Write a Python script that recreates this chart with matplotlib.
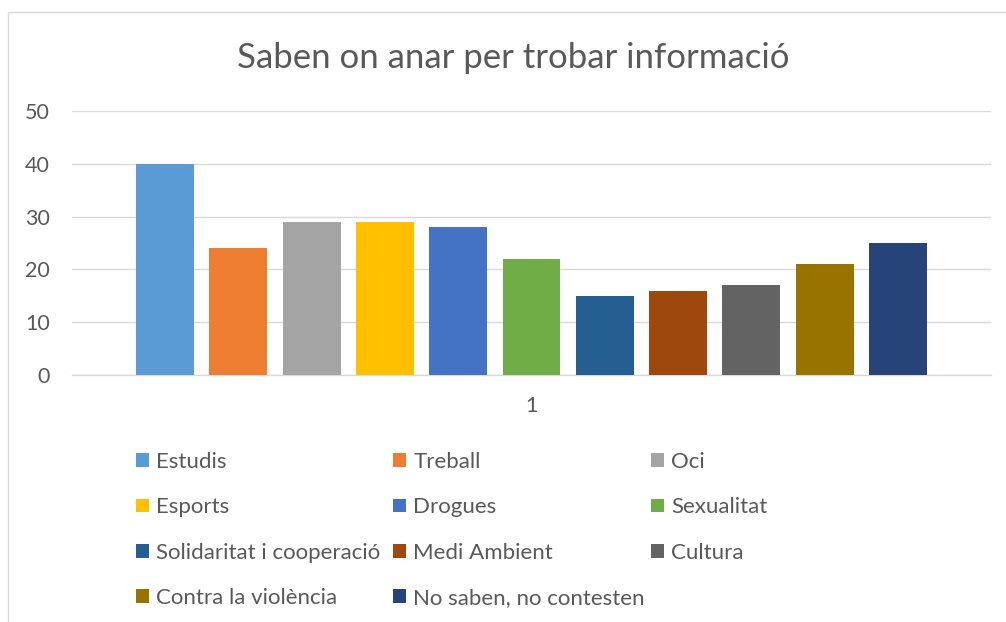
import matplotlib
matplotlib.use("Agg")
import matplotlib.pyplot as plt
from matplotlib.patches import Rectangle

# Dades
temes = ["Estudis", "Treball", "Oci", "Esports", "Drogues", "Sexualitat",
         "Solidaritat i cooperació", "Medi Ambient", "Cultura",
         "Contra la violència", "No saben, no contesten"]
valors = [40, 24, 29, 29, 28, 22, 15, 16, 17, 21, 25]
colors = ["#5B9BD5", "#ED7D31", "#A5A5A5", "#FFC000", "#4472C4", "#70AD47",
          "#255E91", "#9E480E", "#636363", "#997300", "#264478"]
categoria = "1"
y_ticks = [0, 10, 20, 30, 40, 50]

text_color = "#595959"
grid_color = "#D9D9D9"
plt.rcParams['font.family'] = ['Lato', 'DejaVu Sans']

W, H = 1006, 622
fig = plt.figure(figsize=(W / 100, H / 100), dpi=100)

# Marc del gràfic
fig.add_artist(Rectangle((8 / W, -0.1), 1.2, 1.1 - 11.5 / H, transform=fig.transFigure,
                         fill=False, edgecolor=grid_color, linewidth=1.0))

ax = fig.add_axes([72 / W, 1 - 375 / H, (991 - 72) / W, (375 - 111) / H])

n = len(valors)
bars = []
for i, (t, v, c) in enumerate(zip(temes, valors, colors)):
    b = ax.bar(i - (n - 1) / 2, v, width=0.79, color=c, label=t, zorder=3)
    bars.append(b)

ax.set_xlim(-6.27, 6.27)
ax.set_ylim(0, 50)
ax.set_yticks(y_ticks)
ax.set_xticks([0])
ax.set_xticklabels([categoria])
ax.grid(axis='y', color=grid_color, linewidth=1.0, zorder=0)
for s in ["top", "right", "left"]:
    ax.spines[s].set_visible(False)
ax.spines["bottom"].set_color(grid_color)
ax.spines["bottom"].set_linewidth(1.0)
ax.tick_params(axis='both', length=0, colors=text_color, labelsize=15.5)
ax.tick_params(axis='y', pad=16)
ax.tick_params(axis='x', pad=15)

fig.text(0.5 * (237 + 789) / W, 1 - 68 / H, "Saben on anar per trobar informació",
         ha='center', va='baseline', fontsize=25, color=text_color)

# Llegenda en tres columnes (ordre per files, com a Excel)
col_x = [136, 393, 651]
for j, x in enumerate(col_x):
    hs = [bars[k] for k in range(j, n, 3)]
    ls = [temes[k] for k in range(j, n, 3)]
    leg = fig.legend(hs, ls, loc='upper left', bbox_to_anchor=(x / W, 1 - 452 / H),
                     bbox_transform=fig.transFigure, frameon=False, borderpad=0,
                     borderaxespad=0, fontsize=16, handlelength=0.59, handleheight=0.59,
                     handletextpad=0.32, labelspacing=1.14)
    for t in leg.get_texts():
        t.set_color(text_color)

fig.savefig("out.png", dpi=100)
